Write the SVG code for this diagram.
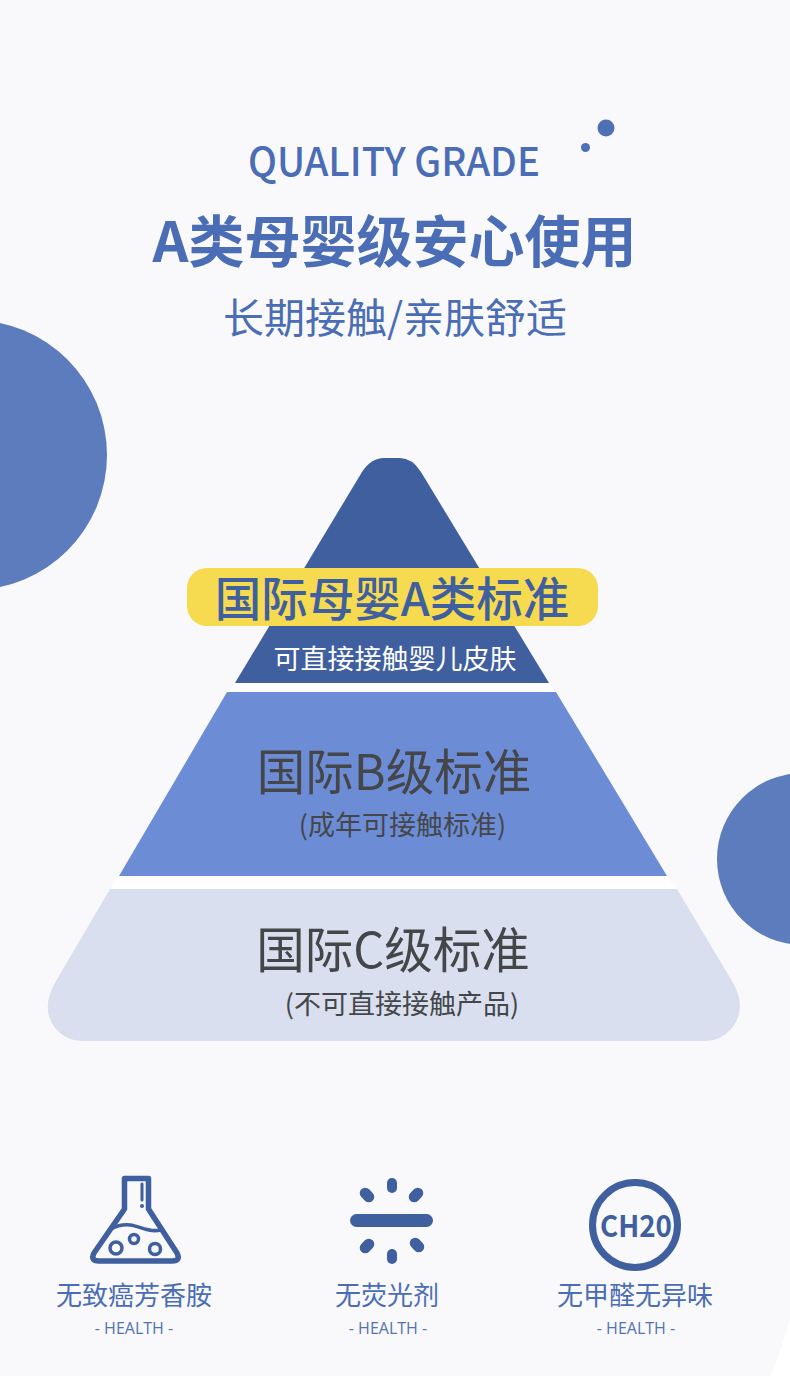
<svg xmlns="http://www.w3.org/2000/svg" width="790" height="1376" viewBox="0 0 790 1376">
<style>
text{font-family:"Noto Sans CJK SC","Noto Sans",sans-serif;text-anchor:middle}
.b{fill:#4a6db5}.l{fill:#4a6db5;font-weight:400}
.d{fill:#444649;font-weight:400}
.h{fill:#5272b4;font-size:16px;font-family:"Open Sans","Noto Sans",sans-serif;font-weight:400}
.i{fill:none;stroke:#3f5f9f;stroke-linecap:round;stroke-linejoin:round}
.f{fill:#3f5f9f}
</style>
<rect width="790" height="1376" fill="#ffffff"/>
<path d="M0 0H790V1318Q782 1350 770 1376H0Z" fill="#f9f9fb"/>
<g id="decor">
<circle cx="-28" cy="455" r="135" fill="#5c7cbd"/>
<circle cx="803" cy="859" r="86" fill="#5c7cbd"/>
<circle cx="606" cy="128" r="8.500" fill="#4f70b4"/>
<circle cx="585.500" cy="147.500" r="4.500" fill="#4f70b4"/>
</g>
<g id="title">
<text x="394" y="176" font-size="40" font-weight="500" class="b" textLength="292" lengthAdjust="spacingAndGlyphs">QUALITY GRADE</text>
<text x="394.500" y="262" font-size="56" font-weight="700" class="b">A类母婴级安心使用</text>
<text x="395" y="333" font-size="41" class="l">长期接触/亲肤舒适</text>
</g>
<g id="tier-a">
<path d="M235 683L362 472Q371 458 384 458H400Q412 458 421 472L549 683Z" fill="#3f5f9f"/>
<rect x="187" y="568" width="411" height="58" rx="20" fill="#f6da50"/>
<text x="392" y="616" font-size="46.500" fill="#3f5f9f" font-weight="500">国际母婴A类标准</text>
<text x="395" y="669" font-size="27" fill="#ffffff">可直接接触婴儿皮肤</text>
</g>
<g id="gaps" fill="#ffffff">
<path d="M235 683H549L556 692H227Z"/>
<path d="M119 876H667L677 889H110Z"/>
</g>
<g id="tier-b">
<path d="M227 692H556L667 876H119Z" fill="#6c8dd6"/>
<text x="394" y="790" font-size="48.500" class="d">国际B级标准</text>
<text x="402.500" y="835" font-size="27" class="d">(成年可接触标准)</text>
</g>
<g id="tier-c">
<path d="M110 889H677L732 981Q748 1008 732 1028Q721 1041 705 1041H82Q66 1041 55 1028Q40 1008 56 981Z" fill="#d9dfee"/>
<text x="393" y="968" font-size="48.500" class="d">国际C级标准</text>
<text x="402" y="1014" font-size="27" class="d">(不可直接接触产品)</text>
</g>
<g id="flask">
<path class="i" stroke-width="5.500" d="M124.500 1178.500H148.500V1209L177 1253Q181 1261 172 1261H99Q90 1261 94 1253L124.500 1209Z"/>
<path class="i" stroke-width="3.500" d="M111 1229Q120 1224 130 1225C140 1226 148 1233 161 1230"/>
<path class="i" stroke-width="3" d="M142 1184V1200"/>
<circle class="f" cx="142" cy="1206" r="2"/>
<circle class="i" stroke-width="3.500" cx="116" cy="1248" r="6"/>
<circle class="i" stroke-width="3.500" cx="134" cy="1239" r="4.500"/>
<circle class="i" stroke-width="3.500" cx="155" cy="1249" r="5.500"/>
<text x="134" y="1305" font-size="26" class="l">无致癌芳香胺</text>
<text x="134" y="1334" class="h">- HEALTH -</text>
</g>
<g id="fluorescent">
<rect class="f" x="350" y="1214" width="83" height="13" rx="6.500"/>
<rect class="f" x="387" y="1178" width="10" height="15" rx="5"/>
<rect class="f" x="387" y="1249" width="10" height="15" rx="5"/>
<rect class="f" x="359" y="1189.500" width="16" height="11" rx="5.500" transform="rotate(45 367 1195)"/>
<rect class="f" x="408" y="1189.500" width="16" height="11" rx="5.500" transform="rotate(-45 416 1195)"/>
<rect class="f" x="359" y="1240.500" width="16" height="11" rx="5.500" transform="rotate(-45 367 1246)"/>
<rect class="f" x="409" y="1239.500" width="16" height="11" rx="5.500" transform="rotate(45 417 1245)"/>
<text x="387" y="1305" font-size="26" class="l">无荧光剂</text>
<text x="388" y="1334" class="h">- HEALTH -</text>
</g>
<g id="ch2o">
<circle class="i" stroke-width="7" cx="635" cy="1225" r="42.500"/>
<text x="636" y="1237" font-size="30" font-weight="700" fill="#3f5f9f" textLength="72" lengthAdjust="spacingAndGlyphs">CH20</text>
<text x="635" y="1305" font-size="26" class="l">无甲醛无异味</text>
<text x="636" y="1334" class="h">- HEALTH -</text>
</g>
</svg>
